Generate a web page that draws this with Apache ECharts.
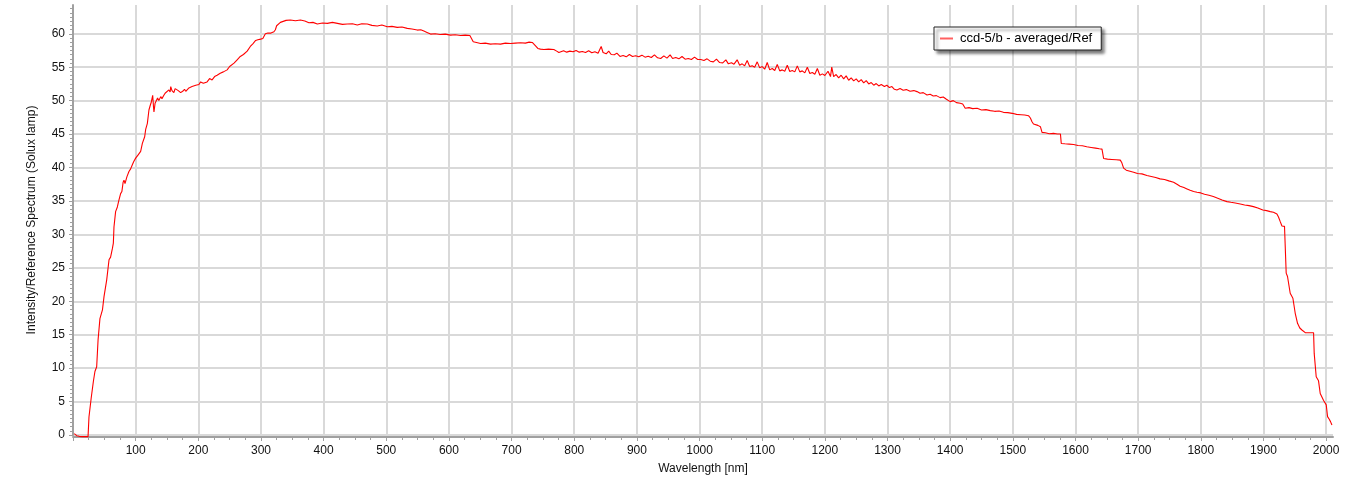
<!DOCTYPE html>
<html>
<head>
<meta charset="utf-8">
<script src="https://cdn.jsdelivr.net/npm/echarts@6/dist/echarts.min.js"></script>
<style>
html,body{margin:0;padding:0;background:#fff;}
#chart{width:1360px;height:487px;}
</style>
</head>
<body>
<div id="chart"></div>
<script>
const seriesName = 'ccd-5/b - averaged/Ref';
const xAxisTitle = 'Wavelength [nm]';
const yAxisTitle = 'Intensity/Reference Spectrum (Solux lamp)';
const xTickValues = [0,100,200,300,400,500,600,700,800,900,1000,1100,1200,1300,1400,1500,1600,1700,1800,1900,2000];
const xLabelValues = [100,200,300,400,500,600,700,800,900,1000,1100,1200,1300,1400,1500,1600,1700,1800,1900,2000];
const yTickValues = [0,5,10,15,20,25,30,35,40,45,50,55,60];

const wavelength = [
2,4,6,10,15,20,24,25.5,29,32.5,35,37.8,40,43,45,47,49.5,53.8,57.5,60,62.9,64.4,65.4,68,70.8,73,76,78,80,81.4,83,86,89.3,92,94.7,97,100,104,108,110.7,114.4,116,118.7,121.2,123,125,127.2,128.5,129.2,131,133.5,135,137,140,142,145,147,150,153,155,156,158,161,163,166,168,171.8,175,178,180,182.5,185,188,190,193,196,198.5,201,203.7,
208,214,218,222,226,230,235,240,246,250,253,257,262,267,272,278,283,287,291.5,295,299.5,303,307,311,316,320.7,323,325,328,331,334,340,347,355,363,370,376.5,383,390,398,406,414,422,430,437.8,446,453.7,461,469.7,477,485.6,493,501.6,509,517.5,525,533.5,541,549.5,555,560,565,570.7,578,586,594,602.6,610,618.5,626,633.4,636,638.8,644,650.5,658,666.4,674,682.4,690,698.3,706,714.3,722,728,730.2,733,735.5,739,741.9,746,751.5,759,767.4,772,775.4,
778,783,788,793,798,803,808,813,818,823,828,833,838,843,846,851,855,859,864,868,873,878,883,888,893,898,903,908,913,918,923,928,933,938,943,948,953,957,962,967,972,977,982,987,992,997,1002,1007,1012,1017,1022,1027,1032,1037,1042,1046,1051,1055,1060,1064,1068,1072,1076,1080,1084,1088,1092,1096,1100,1104,1108,1112,1116,1120,1124,1128,1132,1136,1140,1144,1148,1152,1156,1160,1164,1168,1172,1176,1180,1184,1188,1192,1196,1200,1205,1209,1211,1214,1218,1222,1226,1230,1234,1238,1242,1246,1250,1254,1258,1262,1266,1270,1274,1278,1282,1286,1290,1295,1299,1303,1307,1311,1315,1320,
1325,1330,1336,1342,1347,1352,1357,1363,1368,1373,1378,1384,1389,1394,1400,1405,1410,1416,1420,1424,1430,1436,1443,1450,1457,1464,1471,1478,1485,1492,1499,1506,1513,1519,1525,1528,1530.6,1533,1536,1540,1544,1546.6,1552,1558,1565,1571,1576,1577.3,1583,1590,1597,1604,1611,1618,1625,1632,1638,1642.3,1644.9,1651,1658,1665,1671.5,1674,1676.8,1681,1687,1692.8,1699,1706,1714,1721,1728,1735,1742,1749,1756.6,1762,1767,
1773,1778,1783,1788.5,1794,1800,1806,1813,1820,1827,1834,1841.7,1848,1855,1863,1870,1877,1884,1891,1899,1905,1910.8,1916,1921.5,1924,1926.8,1929.5,1933.6,1936.3,1938.4,1942.7,1947,1950.7,1954.4,1958,1961.4,1966.7,1973,1980,1981,1984.2,1987.9,1990.6,1996,2000.2,2002.3,2005,2007,2009.3
];

const intensity = [
0.2,0.1,-0.1,-0.2,-0.25,-0.25,-0.25,2.7,5.5,8.0,9.5,10.2,14.2,17.4,17.5,18.7,20.7,23.2,26.2,26.6,27.9,28.7,31.1,33.4,34.1,35.0,36.1,36.4,37.8,38.1,37.6,38.6,39.4,39.8,40.4,40.9,41.4,41.9,42.4,43.6,44.6,45.7,46.6,48.6,49.2,49.8,50.8,49.0,48.3,49.6,49.8,50.4,50.0,50.6,50.3,50.8,51.1,50.9,51.6,51.3,52.1,51.5,51.2,51.8,52.0,51.5,51.2,51.4,51.7,51.4,51.6,51.9,51.8,52.1,52.0,52.3,52.2,52.4,52.8,
52.6,52.8,53.3,53.1,53.6,53.8,54.1,54.3,54.6,55.1,55.3,55.6,56.1,56.6,56.9,57.4,58.1,58.5,59.0,59.1,59.2,59.3,60.0,60.1,60.1,60.3,60.6,61.2,61.3,61.7,61.8,62.0,62.05,61.95,62.05,61.9,61.65,61.7,61.45,61.6,61.55,61.7,61.55,61.4,61.45,61.5,61.3,61.5,61.45,61.25,61.15,61.3,61.05,61.1,60.95,61.0,60.8,60.7,60.55,60.6,60.4,60.2,59.95,60.0,59.9,59.95,59.8,59.85,59.75,59.8,59.75,59.3,58.8,58.7,58.55,58.6,58.45,58.5,58.45,58.6,58.55,58.6,58.65,58.6,58.75,58.95,58.7,58.55,58.1,57.8,57.7,57.65,57.7,57.65,57.4,57.2,
57.3,57.45,57.25,57.4,57.3,57.5,57.25,57.35,57.2,57.45,57.15,57.3,57.1,58.1,57.2,57.0,57.4,56.9,56.85,57.1,56.6,56.75,56.55,56.9,56.6,56.7,56.55,56.8,56.5,56.65,56.45,56.85,56.4,56.3,56.7,56.35,56.85,56.3,56.45,56.25,56.6,56.2,56.3,56.15,56.5,56.15,56.15,56.0,56.25,55.9,55.8,56.2,55.7,55.65,56.1,55.5,55.65,55.45,56.1,55.3,55.5,55.2,56.0,55.1,55.2,55.0,55.8,54.9,55.1,54.7,55.7,54.6,54.8,54.5,55.4,54.45,54.6,54.4,55.3,54.35,54.5,54.3,55.2,54.3,54.45,54.15,55.0,54.05,54.2,53.95,54.8,53.8,54.0,53.75,54.4,53.6,55.0,53.6,53.9,53.4,53.8,53.25,53.7,53.05,53.4,52.95,53.25,52.8,53.15,52.65,53.0,52.5,52.7,52.3,52.55,52.2,52.4,52.1,52.3,51.95,52.1,51.7,51.6,51.8,
51.55,51.65,51.4,51.5,51.35,51.1,51.2,50.85,50.95,50.7,50.75,50.45,50.55,50.2,49.85,50.0,49.7,49.6,49.5,48.85,48.95,48.8,48.85,48.6,48.65,48.5,48.4,48.45,48.25,48.2,48.1,47.95,47.9,47.85,47.75,47.4,46.85,46.5,46.7,46.3,46.1,45.25,45.2,45.05,45.1,45.0,45.0,43.6,43.55,43.5,43.45,43.3,43.25,43.1,43.0,42.9,42.8,42.75,41.35,41.25,41.2,41.15,41.1,40.7,39.9,39.6,39.45,39.3,39.1,39.05,38.8,38.65,38.5,38.3,38.2,38.0,37.8,37.5,37.2,
37.0,36.8,36.6,36.4,36.3,36.2,36.0,35.85,35.65,35.4,35.15,34.9,34.8,34.7,34.55,34.4,34.3,34.15,33.95,33.65,33.55,33.4,33.3,33.05,32.6,31.9,31.25,31.2,24.2,23.7,21.2,20.45,18.2,16.7,16.0,15.7,15.3,15.3,15.3,12.2,8.7,8.1,6.2,5.15,4.5,2.75,2.35,2.0,1.5
];

const data = wavelength.map((w, i) => [w, intensity[i]]);

const chart = echarts.init(document.getElementById('chart'), null, {renderer: 'canvas'});
const labelFont = {fontFamily: 'Liberation Sans, Arial, sans-serif', fontSize: 12, color: '#111'};

chart.setOption({
  animation: false,
  backgroundColor: '#ffffff',
  grid: {left: 73, right: 27, top: 5, bottom: 52, containLabel: false},
  legend: {
    show: true,
    data: [seriesName],
    left: 934, top: 27,
    padding: [5, 9, 5, 6],
    backgroundColor: '#ffffff',
    borderColor: '#222',
    borderWidth: 1,
    borderRadius: 0,
    shadowColor: 'rgba(0,0,0,0.55)',
    shadowBlur: 3,
    shadowOffsetX: 3,
    shadowOffsetY: 3,
    icon: 'rect',
    itemWidth: 13,
    itemHeight: 2,
    itemGap: 8,
    itemStyle: {color: '#ff6060'},
    textStyle: {fontFamily: 'Liberation Sans, Arial, sans-serif', fontSize: 13, color: '#000', padding: [0, 0, 0, 2]}
  },
  xAxis: {
    type: 'value',
    min: 0, max: 2011, interval: 100,
    offset: 2,
    name: xAxisTitle,
    nameLocation: 'middle',
    nameGap: 26,
    nameTextStyle: labelFont,
    axisLine: {show: true, onZero: false, lineStyle: {color: '#a0a0a0', width: 2}},
    axisTick: {show: true, length: 4, customValues: xTickValues, lineStyle: {color: '#a0a0a0', width: 1}},
    minorTick: {show: true, splitNumber: 4, length: 3, lineStyle: {color: '#a0a0a0', width: 1}},
    axisLabel: Object.assign({margin: 8, customValues: xLabelValues, formatter: v => String(v)}, labelFont),
    splitLine: {show: true, lineStyle: {color: '#d9d9d9', width: 2}}
  },
  yAxis: {
    type: 'value',
    min: 0, max: 64.3, interval: 5,
    name: yAxisTitle,
    nameLocation: 'middle',
    nameGap: 35,
    nameRotate: 90,
    nameTextStyle: labelFont,
    axisLine: {show: true, onZero: false, lineStyle: {color: '#a0a0a0', width: 2}},
    axisTick: {show: true, length: 4, customValues: yTickValues, lineStyle: {color: '#a0a0a0', width: 1}},
    minorTick: {show: true, splitNumber: 8, length: 3, lineStyle: {color: '#a0a0a0', width: 1}},
    axisLabel: Object.assign({margin: 8, customValues: yTickValues, formatter: v => String(v)}, labelFont),
    splitLine: {show: true, lineStyle: {color: '#d9d9d9', width: 2}}
  },
  series: [{
    name: seriesName,
    type: 'line',
    data: data,
    symbol: 'none',
    showSymbol: false,
    lineStyle: {color: '#ff0000', width: 1.1},
    itemStyle: {color: '#ff0000'},
    clip: false
  }]
});
</script>
</body>
</html>
